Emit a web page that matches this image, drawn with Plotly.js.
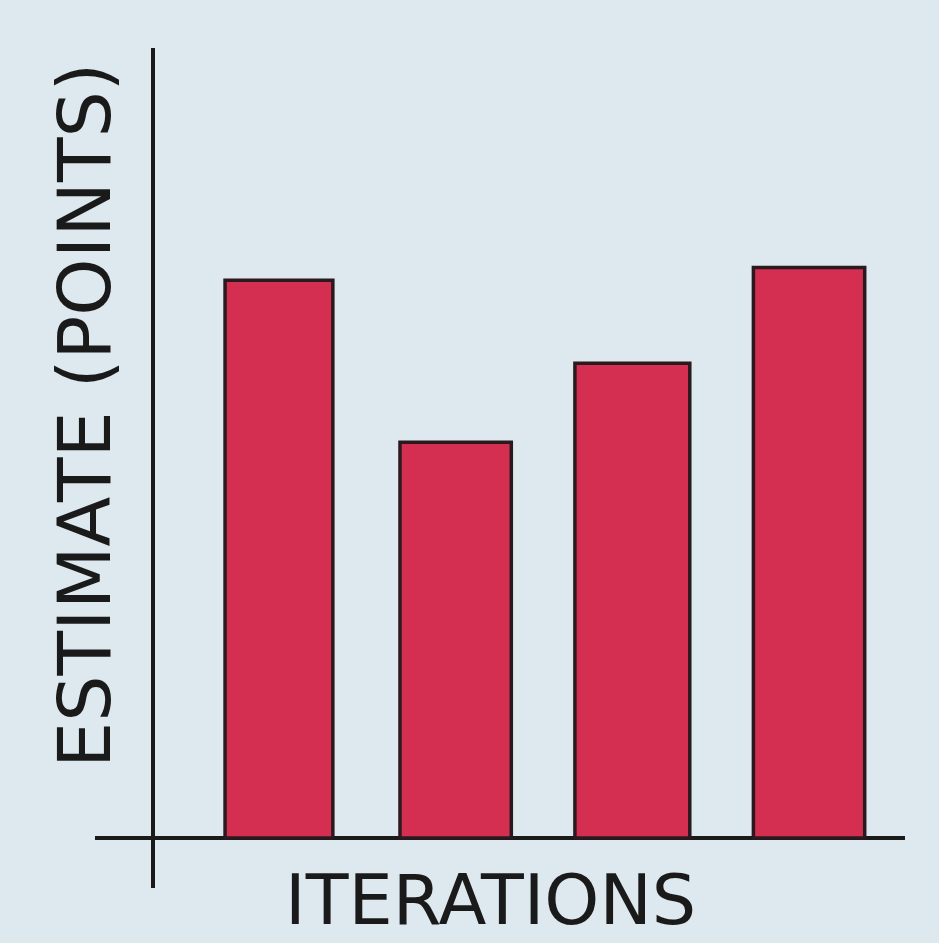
<!DOCTYPE html>
<html>
<head>
<meta charset="utf-8">
<script src="https://cdn.plot.ly/plotly-3.0.1.min.js"></script>
<style>html,body{margin:0;padding:0;background:#dde9ee;}#chart{width:939px;height:943px;}</style>
</head>
<body>
<div id="chart"></div>
<script>
const iterations = [1, 2, 3, 4];
const estimates = [70.6, 50.1, 60.1, 72.2];
const yTitle = "ESTIMATE (POINTS)";
const xTitle = "ITERATIONS";

const trace = {
  type: 'bar',
  x: iterations,
  y: estimates,
  width: [0.61, 0.63, 0.65, 0.63],
  marker: {color: '#d42e50', line: {color: '#2a1a1f', width: 3.5}},
  hoverinfo: 'none'
};

const layout = {
  width: 939, height: 943,
  margin: {l: 95, r: 34, t: 48, b: 55},
  paper_bgcolor: '#dde9ee',
  plot_bgcolor: '#dde9ee',
  showlegend: false,
  xaxis: {
    range: [-0.041, 4.543],
    showgrid: false, zeroline: false, showticklabels: false, ticks: '', showline: false
  },
  yaxis: {
    range: [-6.33, 100],
    anchor: 'free', position: 0.0704,
    showline: true, linecolor: '#1a1a1a', linewidth: 3.5,
    showgrid: false, zeroline: true, zerolinecolor: '#1a1a1a', zerolinewidth: 3.5,
    showticklabels: false, ticks: ''
  },
  annotations: [
    {text: yTitle, xref: 'paper', yref: 'paper', x: -0.0123, y: 0.562,
     xanchor: 'center', yanchor: 'middle', textangle: -90, showarrow: false,
     font: {family: '"DejaVu Sans", sans-serif', size: 73, color: '#1a1a1a'}},
    {text: xTitle, xref: 'paper', yref: 'paper', x: 0.4877, y: -0.0137,
     xanchor: 'center', yanchor: 'middle', showarrow: false,
     font: {family: '"DejaVu Sans", sans-serif', size: 70, color: '#1a1a1a'}}
  ]
};

Plotly.newPlot('chart', [trace], layout, {displayModeBar: false, staticPlot: true});
</script>
</body>
</html>
